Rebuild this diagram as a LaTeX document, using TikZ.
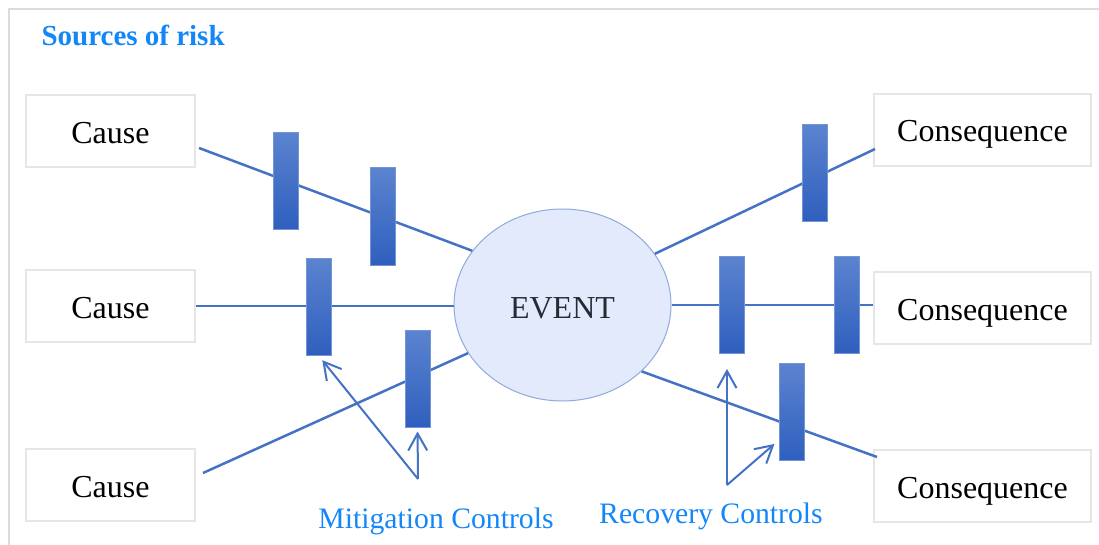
\documentclass[tikz,border=0pt]{standalone}
\usepackage{fontspec}
\setmainfont{Liberation Serif}
\usetikzlibrary{shapes.geometric,arrows.meta}
\definecolor{lineblue}{HTML}{4472C4}
\definecolor{labelblue}{HTML}{1487F8}
\definecolor{bartop}{HTML}{5B83CF}
\definecolor{barbot}{HTML}{2F5FBE}
\definecolor{baredge}{HTML}{7394D6}
\definecolor{evfill}{HTML}{E2EAFB}
\definecolor{evedge}{HTML}{8FAADC}
\definecolor{evtext}{HTML}{262B36}
\definecolor{boxedge}{HTML}{E6E6E6}
\definecolor{frameedge}{HTML}{DCDCDC}
\tikzset{
    riskbox/.style={draw=boxedge, line width=2pt, fill=white, minimum height=72pt, inner sep=0pt, text height=26pt, text depth=2pt, font=\fontsize{32}{38}\selectfont},
    bar/.style={draw=baredge, line width=1pt, top color=bartop, bottom color=barbot, minimum width=25pt, minimum height=97pt, inner sep=0pt},
    link/.style={lineblue, line width=2.5pt},
    ctrl/.style={lineblue, line width=2pt, -{Straight Barb[length=17pt,width=19pt,line width=2pt]}},
    ctrltext/.style={text=labelblue, font=\fontsize{29.7}{36}\selectfont},
}
\begin{document}
\begin{tikzpicture}[x=1pt, y=-1pt]
    \useasboundingbox (0,0) rectangle (1099,545);
    \draw[draw=frameedge, line width=2.5pt] (9,545) -- (9,9) -- (1099,9);
    \node[anchor=base west, text=labelblue, font=\fontsize{29}{34}\selectfont\bfseries] (src) at (38,46) {Sources of risk};
    \foreach \n/\y in {1/131.5, 2/306, 3/485} {
        \node[riskbox, minimum width=169pt] (c\n) at (110.5,\y) {Cause};
    };
    \foreach \n/\y in {1/130, 2/308, 3/486} {
        \node[riskbox, minimum width=217pt] (q\n) at (982.5,\y) {Consequence};
    };
    \node[ellipse, draw=evedge, line width=1pt, fill=evfill, minimum width=217pt, minimum height=192pt, inner sep=0pt, text height=26pt, text depth=0pt, text=evtext, font=\fontsize{32}{38}\selectfont] (ev) at (562.5,305) {EVENT};
    \draw[link] ([shift={(3,16.5)}]c1.east) -- (ev.149);
    \draw[link] (c2.east) -- (c2.east -| ev.west);
    \draw[link] ([shift={(7,-12)}]c3.east) -- (ev.207);
    \draw[link] (ev.29) -- ([shift={(2,19)}]q1.west);
    \draw[link] (ev.east) -- (ev.east -| q2.west);
    \draw[link] (ev.-40) -- ([shift={(4,-29)}]q3.west);
    \foreach \n/\x/\y in {A/286/181, B/382.5/216.5, C/318.5/306.5, D/417.5/378.5, E/814.5/173, F/731.5/305, G/846.5/305, H/792/412} {
        \node[bar] (bar\n) at (\x,\y) {};
    };
    \coordinate (mit) at (418,479);
    \coordinate (rec) at (727,485);
    \draw[ctrl, shorten >=6pt] (mit) -- (barC.south);
    \draw[ctrl, shorten >=4pt] (mit) -- (barD.south);
    \draw[ctrl, shorten >=15pt] (rec) -- (rec |- barF.south);
    \draw[ctrl, shorten >=6pt] (rec) -- ([shift={(0,28)}]barH.west);
    \node[ctrltext, anchor=base] (mittext) at (436,528) {Mitigation Controls};
    \node[ctrltext, anchor=base] (rectext) at (711,523) {Recovery Controls};
\end{tikzpicture}
\end{document}
